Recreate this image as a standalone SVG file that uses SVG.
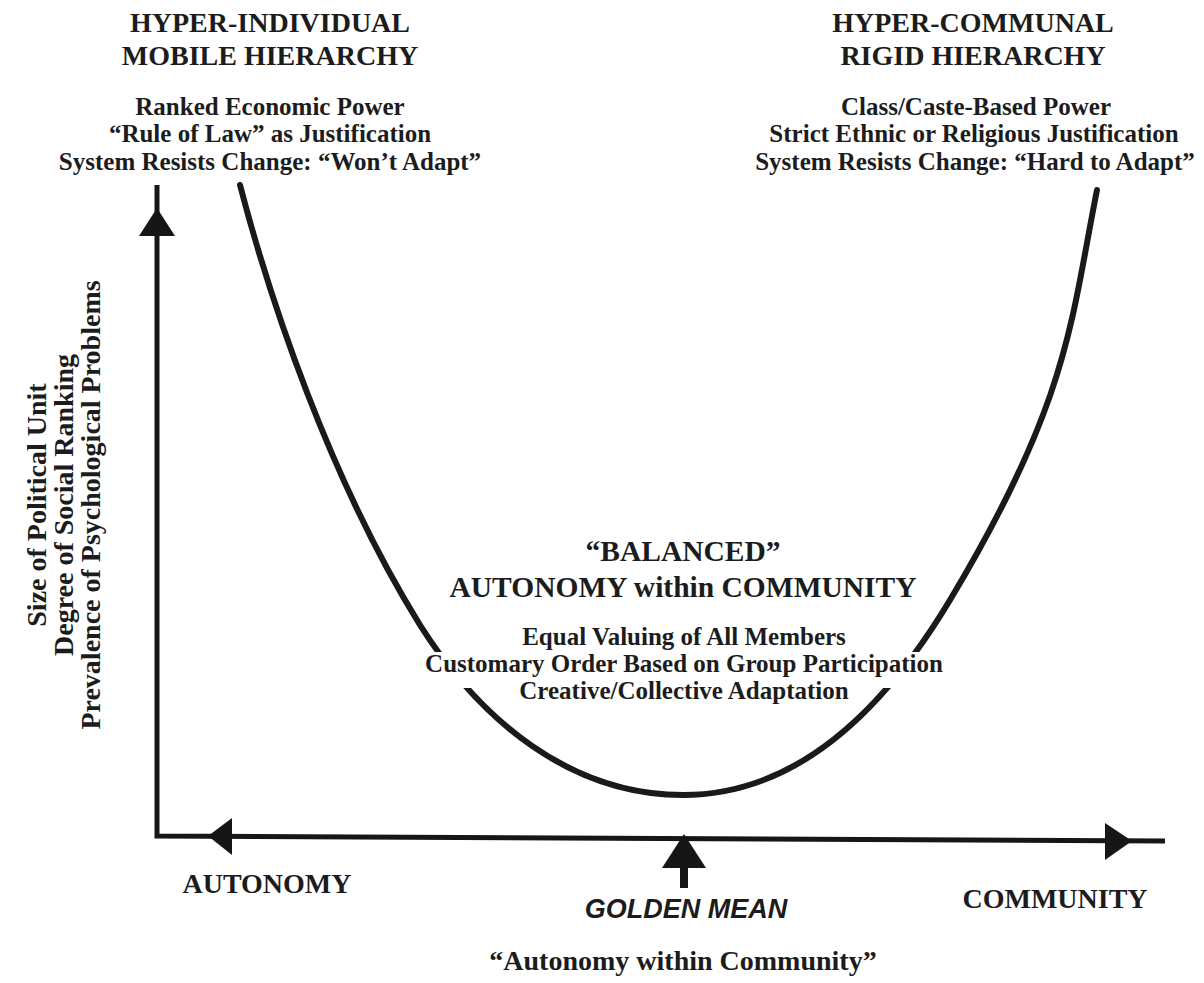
<svg xmlns="http://www.w3.org/2000/svg" width="1204" height="983" viewBox="0 0 1204 983">
<style>
.t{font-family:"Liberation Serif","Times New Roman",serif;font-weight:bold;fill:#1c1c1c;text-anchor:middle}
.h{font-size:28px}
.c{font-size:29.5px}
.s{font-size:25px}
.v{font-size:28px}
.b{font-size:28px}
.gm{font-family:"Liberation Sans",Arial,sans-serif;font-weight:bold;font-style:italic;font-size:27px;fill:#1c1c1c;text-anchor:middle}
.ax{stroke:#161616;stroke-width:5;fill:none}
.ah{fill:#161616;stroke:none}
.cv{stroke:#1a1a1a;stroke-width:6;fill:none;stroke-linecap:round}
</style>
<rect width="1204" height="983" fill="#ffffff"/>
<g id="connectors">
  <path class="ax" d="M157,185 L157,836 L1165,841"/>
  <polygon class="ah" points="157,208 139,236 175,236"/>
  <polygon class="ah" points="208,836 232,818 232,855"/>
  <polygon class="ah" points="1132,841 1105,823 1105,860"/>
  <polygon class="ah" points="684,834 662,868 706,868"/>
  <rect class="ah" x="680" y="866" width="8" height="22"/>
  <path id="curve" class="cv" d="M240,185 C270,300 330,480 420,625 C480,720 570,795 683,795 C790,795 878,720 950,600 C1070,400 1071,320 1097,190"/>
</g>
<g id="hyper-individual">
  <text class="t h" x="270" y="32">HYPER-INDIVIDUAL</text>
  <text class="t h" x="270" y="65">MOBILE HIERARCHY</text>
  <text class="t s" x="270" y="115">Ranked Economic Power</text>
  <text class="t s" x="270" y="142">“Rule of Law” as Justification</text>
  <text class="t s" x="270" y="170">System Resists Change: “Won’t Adapt”</text>
</g>
<g id="hyper-communal">
  <text class="t h" x="973" y="32">HYPER-COMMUNAL</text>
  <text class="t h" x="973" y="65">RIGID HIERARCHY</text>
  <text class="t s" x="976" y="115">Class/Caste-Based Power</text>
  <text class="t s" x="974" y="142">Strict Ethnic or Religious Justification</text>
  <text class="t s" x="975" y="170">System Resists Change: “Hard to Adapt”</text>
</g>
<g id="balanced">
  <text class="t c" x="683" y="561">“BALANCED”</text>
  <text class="t c" x="683" y="597">AUTONOMY within COMMUNITY</text>
  <text class="t s" x="684" y="645">Equal Valuing of All Members</text>
  <rect x="420" y="652" width="530" height="36" fill="#ffffff"/>
  <text class="t s" x="684" y="672">Customary Order Based on Group Participation</text>
  <text class="t s" x="684" y="699">Creative/Collective Adaptation</text>
</g>
<g id="y-axis-labels">
  <text class="t v" transform="translate(46,505) rotate(-90)">Size of Political Unit</text>
  <text class="t v" transform="translate(73,505) rotate(-90)">Degree of Social Ranking</text>
  <text class="t v" transform="translate(100,505) rotate(-90)">Prevalence of Psychological Problems</text>
</g>
<g id="autonomy">
  <text class="t b" x="267" y="893">AUTONOMY</text>
</g>
<g id="golden-mean">
  <text class="gm" x="686" y="918">GOLDEN MEAN</text>
</g>
<g id="community">
  <text class="t b" x="1055" y="908">COMMUNITY</text>
</g>
<g id="autonomy-within-community">
  <text class="t b" x="683" y="970">“Autonomy within Community”</text>
</g>
</svg>
